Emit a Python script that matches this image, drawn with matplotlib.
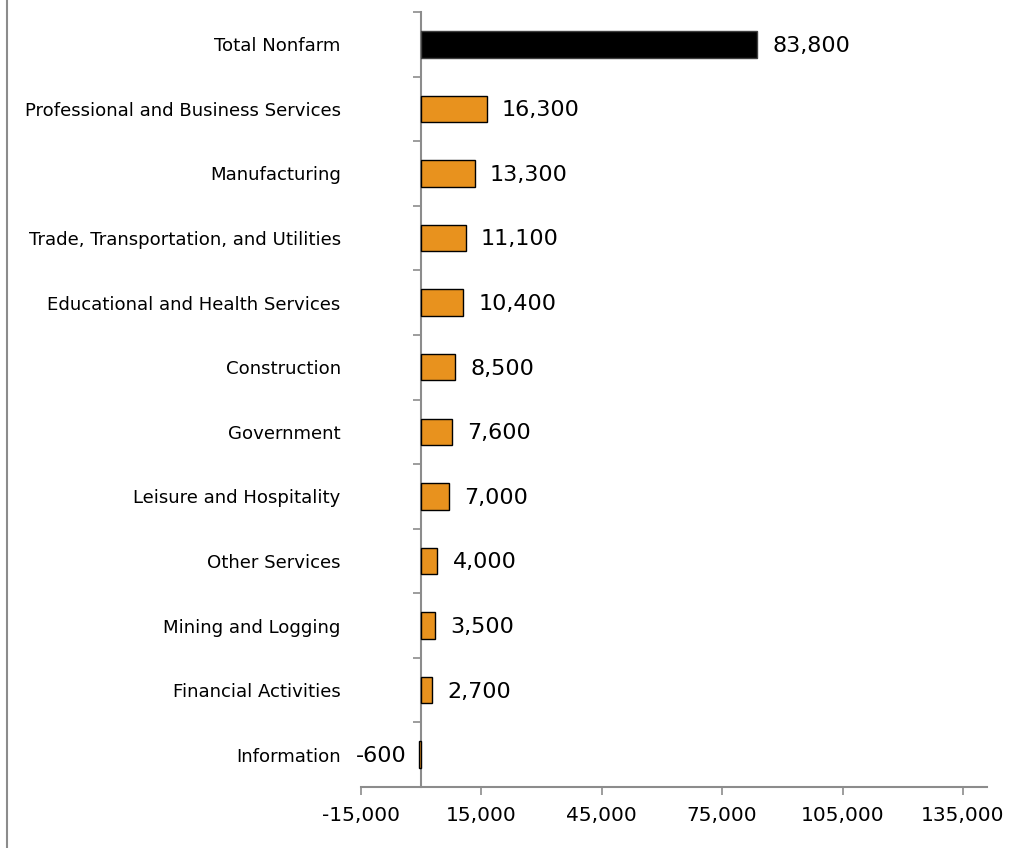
import matplotlib
matplotlib.use("Agg")
import matplotlib.pyplot as plt
from matplotlib.lines import Line2D
import numpy as np

categories = ["Total Nonfarm", "Professional and Business Services", "Manufacturing",
              "Trade, Transportation, and Utilities", "Educational and Health Services",
              "Construction", "Government", "Leisure and Hospitality", "Other Services",
              "Mining and Logging", "Financial Activities", "Information"]
values = [83800, 16300, 13300, 11100, 10400, 8500, 7600, 7000, 4000, 3500, 2700, -600]
xticks = [-15000, 15000, 45000, 75000, 105000, 135000]

plt.rcParams['font.family'] = ['DejaVu Sans']

fig = plt.figure(figsize=(10.29, 8.48), dpi=100)
ax = fig.add_axes([361/1029, 1-787/848, (987-361)/1029, (787-12)/848])

n = len(categories)
ypos = np.arange(n)
colors = ['#000000'] + ['#E8921E'] * (n - 1)
edges = ['#404040'] + ['#000000'] * (n - 1)
ax.barh(ypos, values, height=0.41, color=colors, edgecolor=edges, linewidth=1.0, zorder=3)

ax.set_ylim(n - 0.5, -0.5)
ax.set_xlim(-15000, 141000)

for y, v in zip(ypos, values):
    lbl = f"{v:,}"
    if v >= 0:
        ax.annotate(lbl, (v, y), xytext=(11, -1), textcoords='offset points',
                    ha='left', va='center', fontsize=16, color='black')
    else:
        ax.annotate(lbl, (v, y), xytext=(-9, -1), textcoords='offset points',
                    ha='right', va='center', fontsize=16, color='black')

ax.set_xticks(xticks)
ax.set_xticklabels([f"{t:,}" for t in xticks], fontsize=14.5)
ax.tick_params(axis='x', direction='out', length=6, width=1.2, color='#8c8c8c', pad=8)

ax.spines['left'].set_position(('data', 0))
ax.spines['top'].set_visible(False)
ax.spines['right'].set_visible(False)
for s in ['left', 'bottom']:
    ax.spines[s].set_color('#8c8c8c')
    ax.spines[s].set_linewidth(1.5)

ax.set_yticks(ypos)
ax.set_yticklabels(categories, fontsize=13.1)
ax.tick_params(axis='y', which='major', length=0, pad=58)
ax.set_yticks(np.arange(-0.5, n, 1.0), minor=True)
ax.tick_params(axis='y', which='minor', direction='out', length=6, width=1.2, color='#8c8c8c')

fig.add_artist(Line2D([7/1029, 7/1029], [0, 1], transform=fig.transFigure,
                      color='#8c8c8c', linewidth=1.5))

fig.savefig("out.png", dpi=100)
